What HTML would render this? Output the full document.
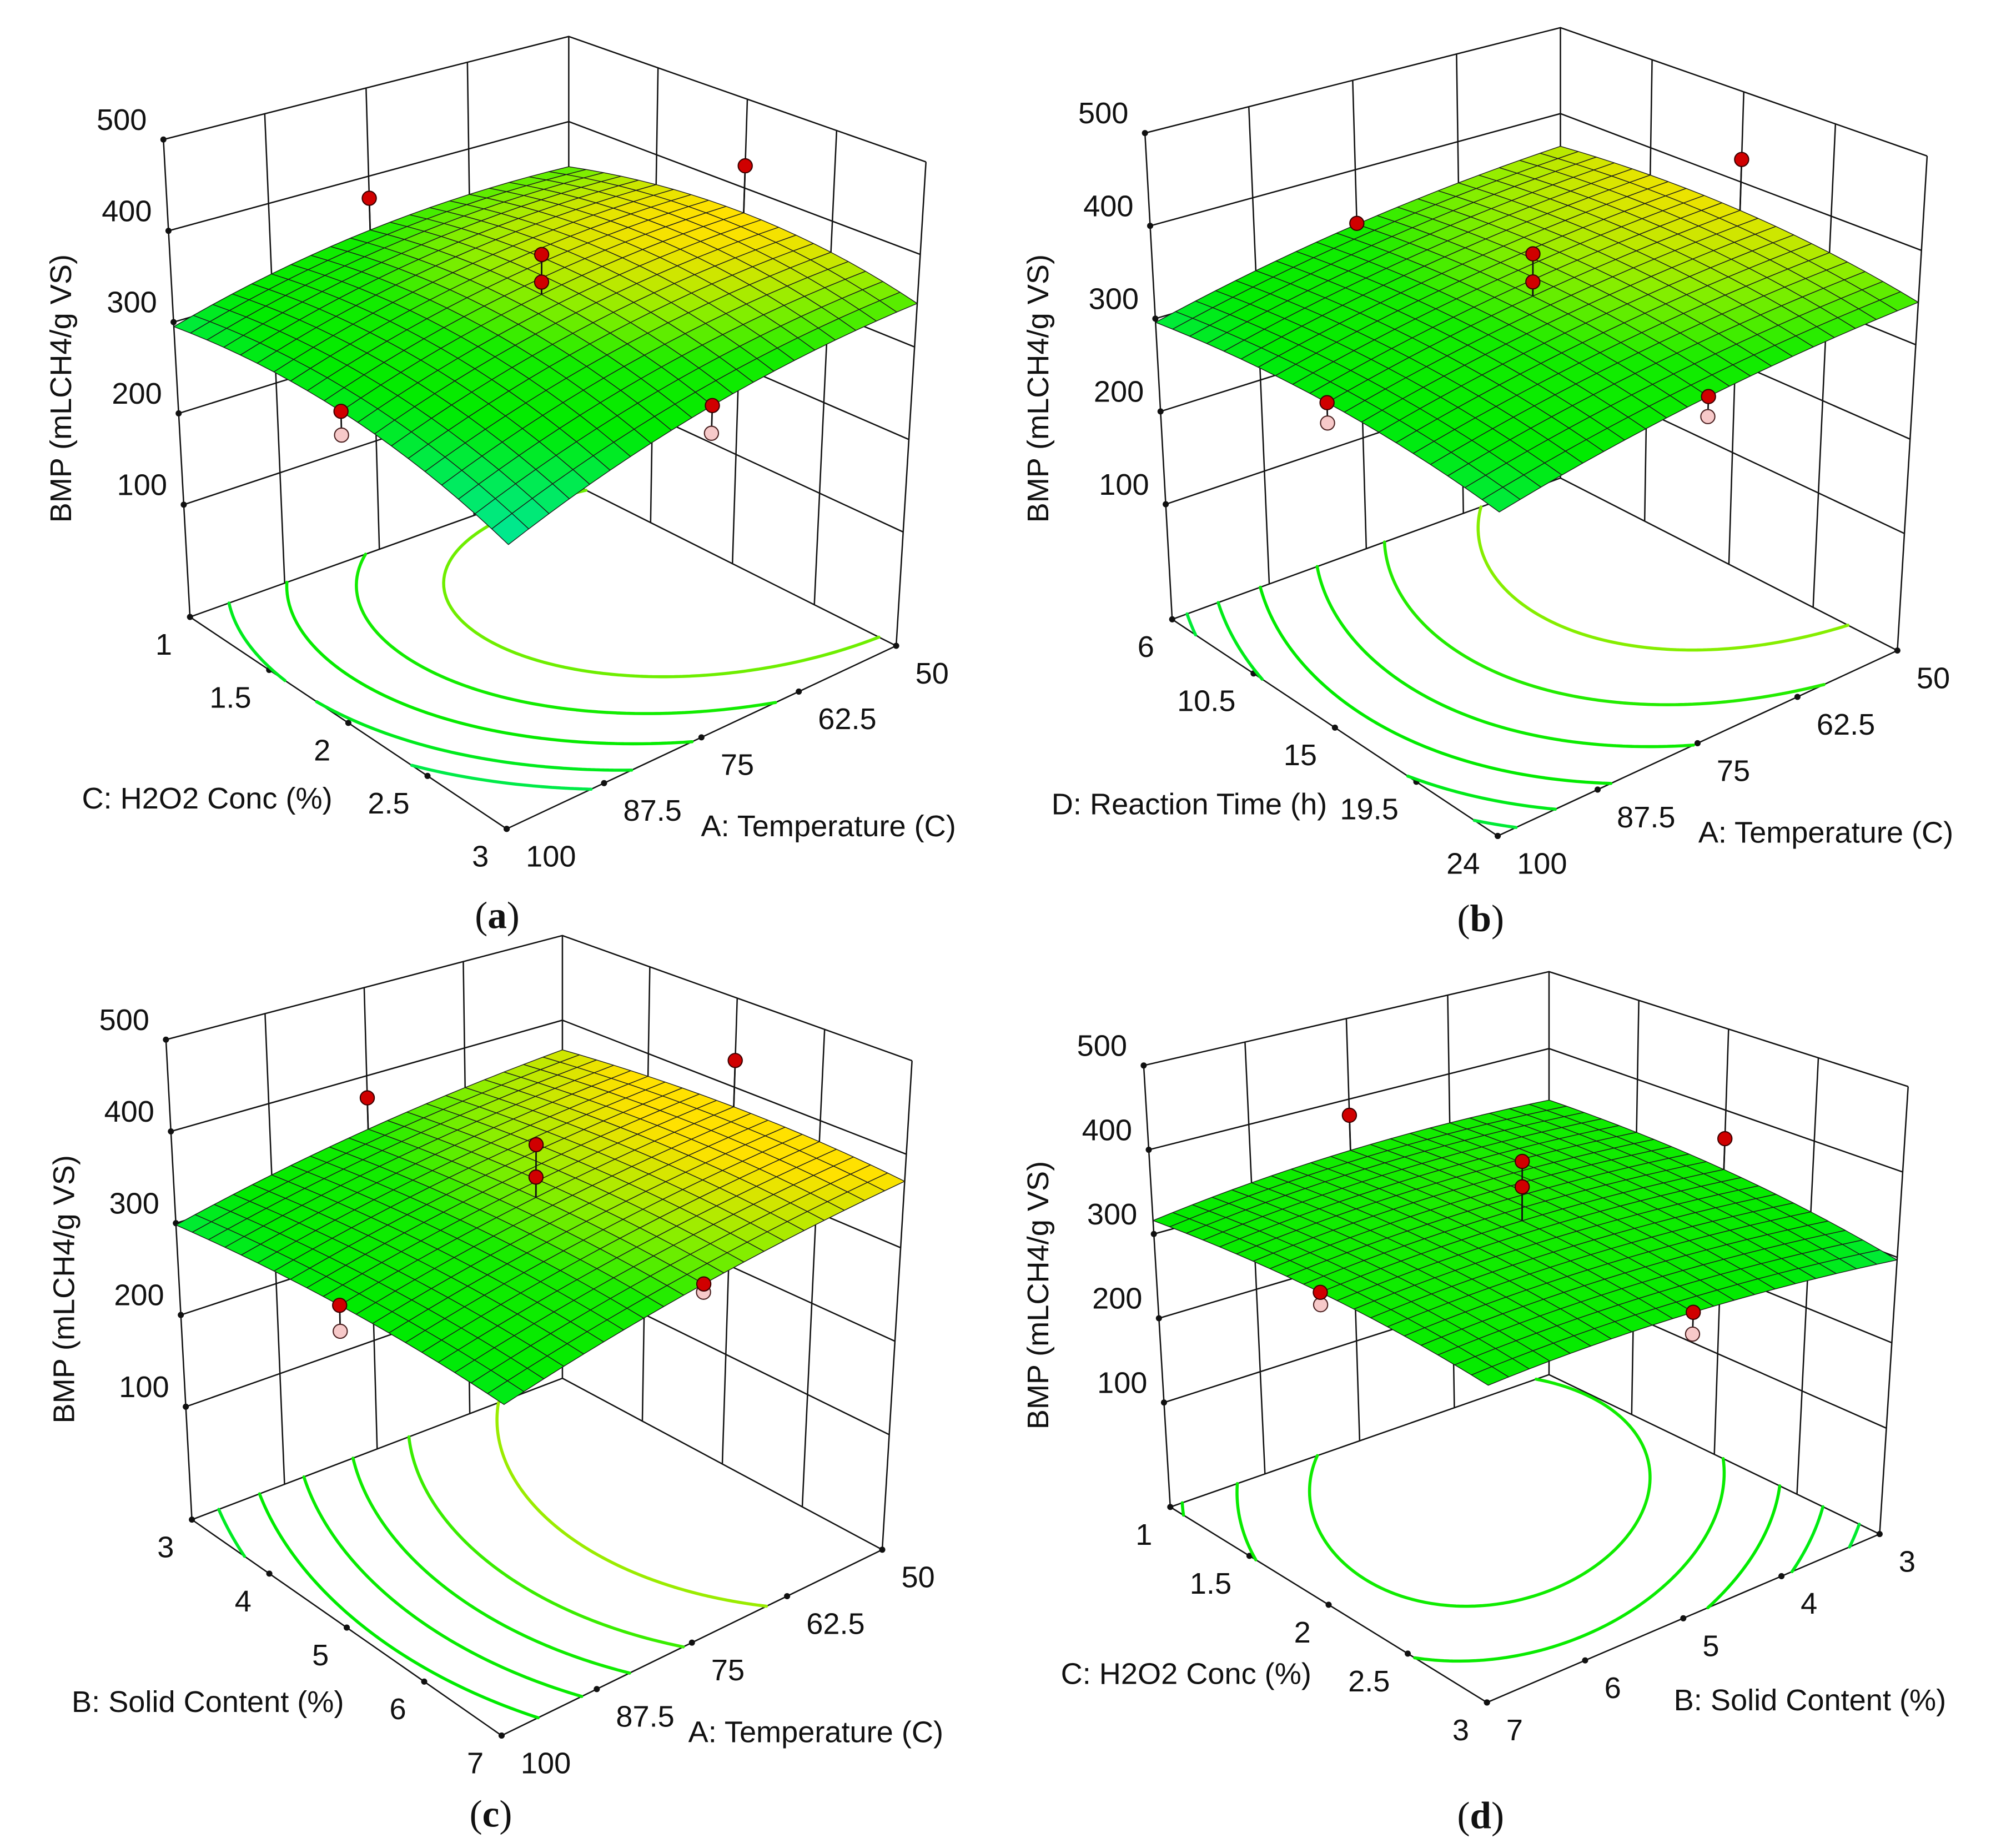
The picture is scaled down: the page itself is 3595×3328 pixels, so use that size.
<!DOCTYPE html>
<html><head><meta charset="utf-8"><style>
html,body{margin:0;padding:0;background:#fff;}
svg{display:block;}
text{font-family:"Liberation Sans",sans-serif;fill:#111;}
</style></head>
<body>
<svg id="fig" xmlns="http://www.w3.org/2000/svg" width="3595" height="3328" viewBox="0 0 1560 1444" preserveAspectRatio="none">
<rect x="0" y="0" width="1560" height="1444" fill="#fff"/>
</svg>
<script>
// ---- data ----
const zTicks = [100, 200, 300, 400, 500];
const tempTicks = [50, 62.5, 75, 87.5, 100];
const h2o2Ticks = [1, 1.5, 2, 2.5, 3];
const timeTicks = [6, 10.5, 15, 19.5, 24];
const solidTicks = [3, 4, 5, 6, 7];
// quadratic model coefficients [b0, bu, bv, buv, buu, bvv] in coded units
const coefA = [356.5, -33.5, -7.5, -7.5, -18, -25];
const coefB = [349.75, -28.75, -4.25, 4.25, -10, -15];
const coefC = [353, -33, 3.5, 0.5, -8, -10];
const coefD = [340, 1, -8.5, 9.5, -12, -12];
const levelsA = [295, 307, 322, 337, 352];
const levelsB = [300, 308, 318, 330, 342, 355];
const levelsC = [305, 315, 325, 335, 345, 358];
const levelsD = [302, 310, 318, 326, 334];
// design points (coded u, coded v, actual BMP)
const ptUA = [1, -1, 0, 0, 0, 0];
const ptVA = [0, 0, -1, 1, 0, 0];
const ptValA = [280, 425, 375, 295, 400, 370];
const ptUB = [1, -1, 0, 0, 0, 0];
const ptVB = [0, 0, -1, 1, 0, 0];
const ptValB = [290, 425, 340, 310, 395, 365];
const ptUC = [1, -1, 0, 0, 0, 0];
const ptVC = [0, 0, -1, 1, 0, 0];
const ptValC = [285, 430, 375, 338, 410, 375];
const ptUD = [1, -1, 0, 0, 0, 0];
const ptVD = [0, 0, -1, 1, 0, 0];
const ptValD = [315, 365, 380, 295, 410, 380];

// ---- geometry (layout, not data) ----
const panels = [
 {id:'a', ox:0, oy:0, sy:0.46, zmin:-23,
  LT:[258,237], BT:[898,62], RT:[1462,275], LB:[300,1048], BB:[898,818], RB:[1415,1097], FB:[800,1408],
  uTicks:tempTicks, vTicks:h2o2Ticks, coef:coefA, levels:levelsA, pu:ptUA, pv:ptVA, pval:ptValA,
  yT:[95,660], lT:[327,1355], rT:[1308,1402], pL:[785,1555],
  lTitle:'C: H2O2 Conc (%)', rTitle:'A: Temperature (C)'},
 {id:'b', ox:781, oy:0, sy:0.46, zmin:-24,
  LT:[230,226], BT:[886,47], RT:[1465,265], LB:[273,1052], BB:[886,812], RB:[1418,1105], FB:[787,1420],
  uTicks:tempTicks, vTicks:timeTicks, coef:coefB, levels:levelsB, pu:ptUB, pv:ptVB, pval:ptValB,
  yT:[60,660], lT:[300,1365], rT:[1305,1413], pL:[760,1560],
  lTitle:'D: Reaction Time (h)', rTitle:'A: Temperature (C)'},
 {id:'c', ox:0, oy:716, sy:0.47, zmin:-23,
  LT:[262,205], BT:[888,32], RT:[1440,240], LB:[303,1003], BB:[888,768], RB:[1393,1053], FB:[792,1362],
  uTicks:tempTicks, vTicks:solidTicks, coef:coefC, levels:levelsC, pu:ptUC, pv:ptVC, pval:ptValC,
  yT:[100,620], lT:[328,1305], rT:[1288,1355], pL:[775,1492],
  lTitle:'B: Solid Content (%)', rTitle:'A: Temperature (C)'},
 {id:'d', ox:781, oy:716, sy:0.47, zmin:-24,
  LT:[228,248], BT:[868,92], RT:[1435,283], LB:[270,982], BB:[868,762], RB:[1390,1027], FB:[770,1307],
  uTicks:solidTicks, vTicks:h2o2Ticks, coef:coefD, levels:levelsD, pu:ptUD, pv:ptVD, pval:ptValD,
  yT:[60,630], lT:[295,1258], rT:[1280,1302], pL:[760,1495],
  lTitle:'C: H2O2 Conc (%)', rTitle:'B: Solid Content (%)'}
];
const SX = 0.495, FS = 23.5;
const NS = 'http://www.w3.org/2000/svg';
const svg = document.getElementById('fig');

function el(tag, parent){ const e = document.createElementNS(NS, tag); parent.appendChild(e); return e; }

const stops = [[250,[0,228,200]],[290,[0,235,90]],[315,[0,235,0]],[340,[20,236,0]],[356,[140,238,0]],[372,[255,225,0]]];
function colorAt(z){
  if (z <= stops[0][0]) return 'rgb('+stops[0][1].join(',')+')';
  for (let i=1;i<stops.length;i++){
    if (z <= stops[i][0]){
      const t=(z-stops[i-1][0])/(stops[i][0]-stops[i-1][0]);
      const a=stops[i-1][1], b=stops[i][1];
      return 'rgb('+[0,1,2].map(k=>Math.round(a[k]+(b[k]-a[k])*t)).join(',')+')';
    }
  }
  return 'rgb('+stops[stops.length-1][1].join(',')+')';
}
function model(p,u,v){
  const x=2*u-1, y=2*v-1, c=p.coef;
  return c[0]+c[1]*x+c[2]*y+c[3]*x*y+c[4]*x*x+c[5]*y*y;
}
function fmt(v){ return String(v); }

panels.forEach(p=>{
  const FT=[p.FB[0]+(p.LT[0]-p.LB[0])+(p.RT[0]-p.RB[0])-(p.BT[0]-p.BB[0]),
            p.FB[1]+(p.LT[1]-p.LB[1])+(p.RT[1]-p.RB[1])-(p.BT[1]-p.BB[1])];
  const Z=(q)=>[p.ox+q[0]*SX, p.oy+q[1]*p.sy];
  function proj(u,v,z){
    const w=[(1-u)*(1-v), u*(1-v), (1-u)*v, u*v];
    const fl=[0,1].map(k=>w[0]*p.BB[k]+w[1]*p.LB[k]+w[2]*p.RB[k]+w[3]*p.FB[k]);
    const tp=[0,1].map(k=>w[0]*p.BT[k]+w[1]*p.LT[k]+w[2]*p.RT[k]+w[3]*FT[k]);
    const t=(z-p.zmin)/(500-p.zmin);
    return Z([fl[0]+(tp[0]-fl[0])*t, fl[1]+(tp[1]-fl[1])*t]);
  }
  const uOf=(val)=>(val-p.uTicks[0])/(p.uTicks[p.uTicks.length-1]-p.uTicks[0]);
  const vOf=(val)=>(val-p.vTicks[0])/(p.vTicks[p.vTicks.length-1]-p.vTicks[0]);
  const P=(a)=>a[0].toFixed(2)+','+a[1].toFixed(2);

  const g=el('g',svg);
  
  

  let d='';
  p.uTicks.forEach(t=>{ const u=uOf(t); d+='M'+P(proj(u,0,p.zmin))+'L'+P(proj(u,0,500)); });
  p.vTicks.forEach(t=>{ const v=vOf(t); d+='M'+P(proj(0,v,p.zmin))+'L'+P(proj(0,v,500)); });
  zTicks.forEach(z=>{ d+='M'+P(proj(1,0,z))+'L'+P(proj(0,0,z))+'L'+P(proj(0,1,z)); });
  d+='M'+P(proj(1,0,p.zmin))+'L'+P(proj(0,0,p.zmin))+'L'+P(proj(0,1,p.zmin));
  d+='M'+P(proj(1,0,p.zmin))+'L'+P(proj(1,1,p.zmin))+'L'+P(proj(0,1,p.zmin));
  const walls=el('path',g);
  walls.setAttribute('d',d);
  walls.setAttribute('fill','none');
  walls.setAttribute('stroke','#111');
  walls.setAttribute('stroke-width','1.1');
  
  

  const dots=[];
  p.vTicks.forEach(t=>dots.push(proj(1,vOf(t),p.zmin)));
  p.uTicks.forEach(t=>dots.push(proj(uOf(t),1,p.zmin)));
  zTicks.forEach(z=>dots.push(proj(1,0,z)));
  dots.forEach(q=>{
    const c=el('circle',g);
    c.setAttribute('cx',q[0]); c.setAttribute('cy',q[1]); c.setAttribute('r','2.4'); c.setAttribute('fill','#111');
    
    
  });

  const N=80;
  const grid=[];
  for(let i=0;i<=N;i++){ grid.push([]); for(let j=0;j<=N;j++) grid[i].push(model(p,i/N,j/N)); }
  p.levels.forEach(L=>{
    let cd='';
    for(let i=0;i<N;i++) for(let j=0;j<N;j++){
      const c=[[i,j],[i+1,j],[i+1,j+1],[i,j+1]];
      const vals=c.map(q=>grid[q[0]][q[1]]-L);
      const pts=[];
      for(let k=0;k<4;k++){
        const a=vals[k], b=vals[(k+1)%4];
        if((a<0)!==(b<0)){
          const t=a/(a-b); const A=c[k], B=c[(k+1)%4];
          pts.push([(A[0]+(B[0]-A[0])*t)/N,(A[1]+(B[1]-A[1])*t)/N]);
        }
      }
      for(let k=0;k+1<pts.length;k+=2){
        cd+='M'+P(proj(pts[k][0],pts[k][1],p.zmin))+'L'+P(proj(pts[k+1][0],pts[k+1][1],p.zmin));
      }
    }
    const cp=el('path',g);
    cp.setAttribute('d',cd);
    cp.setAttribute('fill','none');
    cp.setAttribute('stroke',colorAt(L));
    cp.setAttribute('stroke-width','2.4');
    cp.setAttribute('stroke-linecap','round');
    
    
  });

  const M=20, quads=[];
  for(let i=0;i<M;i++) for(let j=0;j<M;j++) quads.push([i,j]);
  quads.sort((a,b)=>(a[0]+a[1])-(b[0]+b[1]));
  const sg=el('g',g);
  
  
  quads.forEach(q=>{
    const u0=q[0]/M,u1=(q[0]+1)/M,v0=q[1]/M,v1=(q[1]+1)/M;
    const zc=model(p,(u0+u1)/2,(v0+v1)/2);
    const poly=el('polygon',sg);
    poly.setAttribute('points',[proj(u0,v0,model(p,u0,v0)),proj(u1,v0,model(p,u1,v0)),proj(u1,v1,model(p,u1,v1)),proj(u0,v1,model(p,u0,v1))].map(P).join(' '));
    poly.setAttribute('fill',colorAt(zc));
    poly.setAttribute('stroke','#1b1b1b');
    poly.setAttribute('stroke-width','0.6');
    poly.setAttribute('stroke-linejoin','round');
    
    
  });

  p.pval.forEach((val,k)=>{
    const u=(p.pu[k]+1)/2, v=(p.pv[k]+1)/2;
    const fs=model(p,u,v);
    const a=proj(u,v,val), b=proj(u,v,fs);
    const ln=el('line',g);
    ln.setAttribute('x1',a[0]); ln.setAttribute('y1',a[1]); ln.setAttribute('x2',b[0]); ln.setAttribute('y2',b[1]);
    ln.setAttribute('stroke','#111'); ln.setAttribute('stroke-width','1.2');
    
    
    if(val>=fs){
      const c=el('circle',g);
      c.setAttribute('cx',a[0]); c.setAttribute('cy',a[1]); c.setAttribute('r','5.5');
      c.setAttribute('fill','#d00000'); c.setAttribute('stroke','#3a0000'); c.setAttribute('stroke-width','0.9');
      
      
    } else {
      const c2=el('circle',g);
      c2.setAttribute('cx',a[0]); c2.setAttribute('cy',a[1]); c2.setAttribute('r','5.5');
      c2.setAttribute('fill','#f7c9c9'); c2.setAttribute('stroke','#4a2020'); c2.setAttribute('stroke-width','0.9');
      
      
      const c=el('circle',g);
      c.setAttribute('cx',b[0]); c.setAttribute('cy',b[1]); c.setAttribute('r','5.5');
      c.setAttribute('fill','#d00000'); c.setAttribute('stroke','#3a0000'); c.setAttribute('stroke-width','0.9');
      
      
    }
  });

  function txt(x,y,s,anchor,name){
    const t=el('text',g);
    t.setAttribute('x',x.toFixed(1)); t.setAttribute('y',(y+0.36*FS).toFixed(1));
    t.setAttribute('font-size',FS); t.setAttribute('text-anchor',anchor);
    t.textContent=s;
    
    
    return t;
  }
  p.vTicks.forEach(tk=>{ const q=proj(1,vOf(tk),p.zmin); txt(q[0]-14,q[1]+21,fmt(tk),'end','left-axis-tick-label'); });
  p.uTicks.forEach(tk=>{ const q=proj(uOf(tk),1,p.zmin); txt(q[0]+15,q[1]+21,fmt(tk),'start','right-axis-tick-label'); });
  zTicks.forEach(z=>{ const q=proj(1,0,z); txt(q[0]-13,q[1]-16,fmt(z),'end','z-axis-tick-label'); });
  const lt=Z(p.lT); txt(lt[0],lt[1],p.lTitle,'middle','left-axis-title');
  const rt=Z(p.rT); txt(rt[0],rt[1],p.rTitle,'middle','right-axis-title');
  const yt=Z(p.yT);
  const yl=el('text',g);
  yl.setAttribute('x',0); yl.setAttribute('y',0);
  yl.setAttribute('font-size',FS); yl.setAttribute('text-anchor','middle');
  yl.setAttribute('transform','translate('+(yt[0]+0.36*FS).toFixed(1)+','+yt[1].toFixed(1)+') rotate(-90)');
  yl.textContent='BMP (mLCH4/g VS)';
  
  
  const pl=Z(p.pL);
  const lab=el('text',g);
  lab.setAttribute('x',pl[0].toFixed(1)); lab.setAttribute('y',(pl[1]+10).toFixed(1));
  lab.setAttribute('text-anchor','middle'); lab.setAttribute('font-size','30');
  lab.setAttribute('style','font-family:"Liberation Serif",serif;');
  const t1=el('tspan',lab); t1.textContent='(';
  const t2=el('tspan',lab); t2.textContent=p.id; t2.setAttribute('font-weight','bold');
  const t3=el('tspan',lab); t3.textContent=')';
  
  
});
</script>
</body></html>
